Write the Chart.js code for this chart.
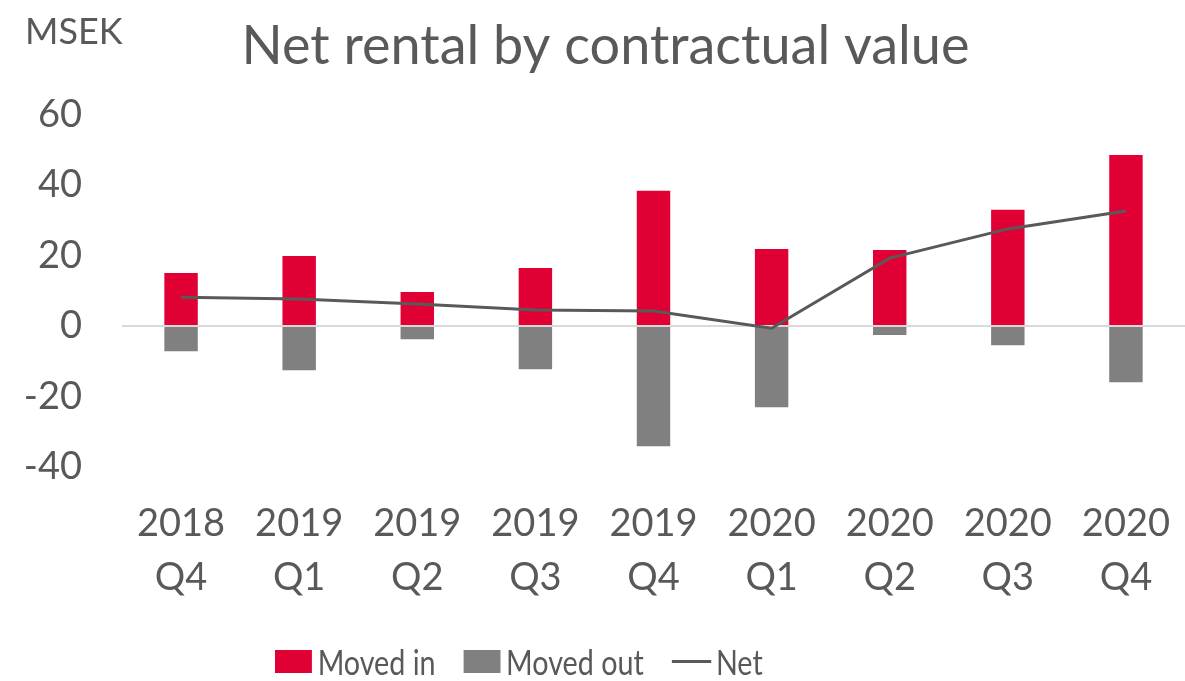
<!DOCTYPE html>
<html>
<head>
<meta charset="utf-8">
<script src="https://cdn.jsdelivr.net/npm/chart.js@4"></script>
<style>
  html, body { margin: 0; padding: 0; background: #fff; }
  #wrap { position: relative; width: 1185px; height: 681px; font-family: Lato, sans-serif; color: #595959; }
  #unit { position: absolute; left: 25px; top: 8px; font-size: 36px; }
  /* legend text in the reference is condensed */
  #legend { position: absolute; left: 275px; top: 639px; height: 44px; display: flex; align-items: center;
            font-size: 35px; line-height: 44px; transform: scaleX(0.82); transform-origin: left center; }
  #legend .item { display: flex; align-items: center; margin-right: 34px; }
  #legend .swatch { width: 45px; height: 23px; margin-right: 7px; }
  #legend .stroke { width: 48px; height: 3px; margin-right: 6px; }
</style>
</head>
<body>
<div id="wrap">
  <canvas id="chart"></canvas>
  <div id="unit">MSEK</div>
  <div id="legend"></div>
</div>
<script>
const quarters = [['2018', 'Q4'], ['2019', 'Q1'], ['2019', 'Q2'], ['2019', 'Q3'], ['2019', 'Q4'],
                  ['2020', 'Q1'], ['2020', 'Q2'], ['2020', 'Q3'], ['2020', 'Q4']];
const movedIn  = [15.4, 20.2, 10.0, 16.8, 38.7, 22.2, 21.9, 33.3, 48.9];
const movedOut = [-7.4, -12.8, -4.0, -12.5, -34.4, -23.3, -2.8, -5.7, -16.2];
const net      = [8.2, 7.7, 6.3, 4.6, 4.3, -0.6, 19.3, 27.6, 32.7];
const yTicks   = [-40, -20, 0, 20, 40, 60];

const textColor = '#595959';
const fontFamily = 'Lato, sans-serif';

const chart = new Chart(document.getElementById('chart'), {
  type: 'bar',
  data: {
    labels: quarters,
    datasets: [
      {
        label: 'Moved in',
        data: movedIn,
        backgroundColor: '#E00034',
        borderColor: '#ffffff',
        borderWidth: 1,
        stack: 'flow',
        order: 2
      },
      {
        label: 'Moved out',
        data: movedOut,
        backgroundColor: '#808080',
        borderColor: '#ffffff',
        borderWidth: 1,
        stack: 'flow',
        order: 2
      },
      {
        type: 'line',
        label: 'Net',
        data: net,
        borderColor: '#595959',
        backgroundColor: '#595959',
        borderWidth: 3,
        pointRadius: 0,
        tension: 0,
        stack: 'net',
        order: 1
      }
    ]
  },
  options: {
    responsive: true,
    maintainAspectRatio: false,
    animation: false,
    layout: { padding: { left: 26, right: 0, top: 0, bottom: 64 } },
    datasets: {
      bar: { categoryPercentage: 1, barPercentage: 0.3 }
    },
    plugins: {
      title: {
        display: true,
        text: 'Net rental by contractual value',
        color: textColor,
        font: { family: fontFamily, size: 54, weight: 'normal', lineHeight: 1.2 },
        padding: { top: 14, bottom: 36 }
      },
      legend: { display: false },
      tooltip: { enabled: false }
    },
    scales: {
      x: {
        stacked: true,
        grid: { display: false, drawTicks: false },
        border: { display: false },
        ticks: {
          color: textColor,
          font: { family: fontFamily, size: 38, lineHeight: 1.42 },
          padding: 30,
          maxRotation: 0
        },
        afterFit(axis) {
          axis.paddingLeft = 0;
          axis.paddingRight = 0;
          axis.height = 150;
        }
      },
      y: {
        stacked: true,
        min: yTicks[0],
        max: yTicks[yTicks.length - 1],
        afterBuildTicks(axis) {
          axis.ticks = yTicks.map(v => ({ value: v }));
        },
        grid: {
          drawTicks: false,
          lineWidth: 2,
          color: ctx => ctx.tick && ctx.tick.value === 0 ? '#d9d9d9' : 'rgba(0,0,0,0)'
        },
        border: { display: false },
        ticks: {
          color: textColor,
          font: { family: fontFamily, size: 38 },
          padding: 40
        },
        afterFit(axis) {
          axis.width = 96;
        }
      }
    }
  }
});

// legend built from the datasets
const legendEl = document.getElementById('legend');
chart.data.datasets.forEach(ds => {
  const item = document.createElement('div');
  item.className = 'item';
  const mark = document.createElement('span');
  mark.className = ds.type === 'line' ? 'stroke' : 'swatch';
  mark.style.background = ds.type === 'line' ? ds.borderColor : ds.backgroundColor;
  const txt = document.createElement('span');
  txt.textContent = ds.label;
  item.appendChild(mark);
  item.appendChild(txt);
  legendEl.appendChild(item);
});
</script>
</body>
</html>
